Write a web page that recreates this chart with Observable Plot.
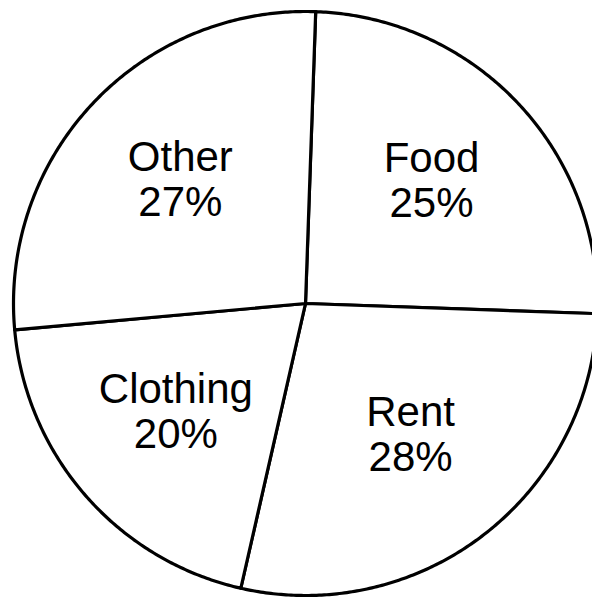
<!DOCTYPE html>
<html>
<head>
<meta charset="utf-8">
<script src="https://cdn.jsdelivr.net/npm/d3@7"></script>
<script src="https://cdn.jsdelivr.net/npm/@observablehq/plot@0.6"></script>
<style>
  html, body { margin: 0; padding: 0; background: #fff; }
  #chart svg { display: block; }
</style>
</head>
<body>
<div id="chart"></div>
<script>
const categories = ["Food", "Rent", "Clothing", "Other"];
const values = [25, 28, 20, 27];

const W = 592, H = 600;
const R = 292;          // pixel radius
const CX = 305, CY = 303; // pixel centre
const startDeg = 2;     // first slice starts 2° clockwise from 12 o'clock
const labelR = 0.59;

const total = d3.sum(values);
const rad = d => d * Math.PI / 180;

// build slice outlines (geometry derived from the values)
const pts = [];
const labels = [];
let a0 = rad(startDeg);
categories.forEach((c, i) => {
  const span = values[i] / total * 2 * Math.PI;
  const a1 = a0 + span;
  pts.push({c, x: 0, y: 0});
  const n = Math.max(2, Math.ceil(span / rad(0.5)));
  for (let k = 0; k <= n; k++) {
    const a = a0 + span * k / n;
    pts.push({c, x: Math.sin(a), y: Math.cos(a)});
  }
  pts.push({c, x: 0, y: 0});
  const am = (a0 + a1) / 2;
  labels.push({c, v: values[i], x: labelR * Math.sin(am), y: labelR * Math.cos(am)});
  a0 = a1;
});

const chart = Plot.plot({
  width: W,
  height: H,
  margin: 0,
  x: {domain: [-CX / R, (W - CX) / R], range: [0, W], axis: null},
  y: {domain: [-(H - CY) / R, CY / R], range: [H, 0], axis: null},
  marks: [
    Plot.line(pts, {x: "x", y: "y", z: "c", fill: "white", stroke: "black", strokeWidth: 3.2, strokeLinejoin: "round", curve: "linear"}),
    Plot.text(labels, {
      x: "x", y: "y",
      text: d => `${d.c}\n${d.v}%`,
      dy: -6,
      fontSize: 42,
      lineHeight: 1.08,
      fontFamily: "Liberation Sans, Arial, sans-serif",
      fill: "black"
    })
  ]
});
document.getElementById("chart").appendChild(chart);
</script>
</body>
</html>
